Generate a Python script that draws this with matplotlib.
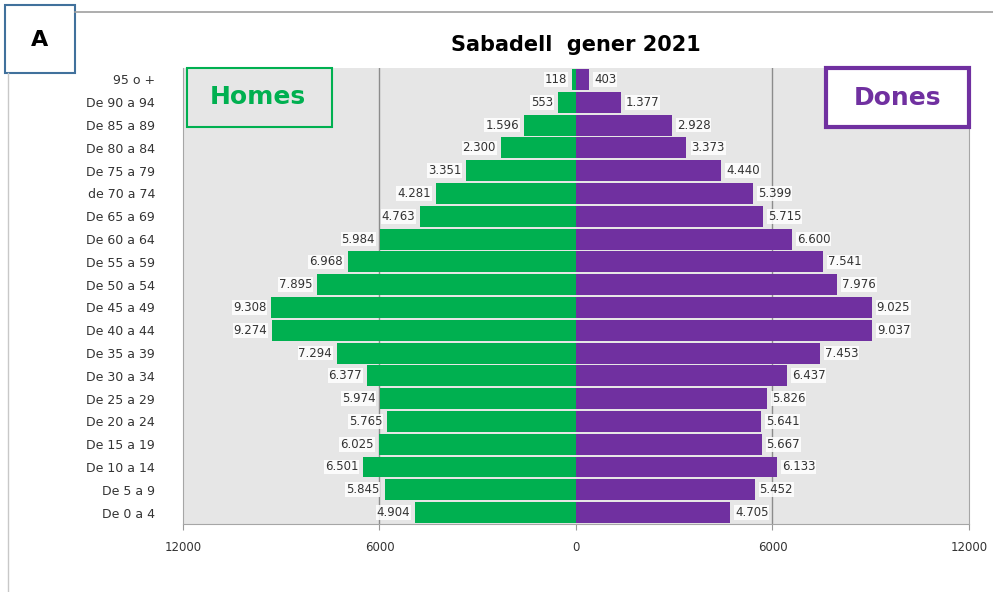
import matplotlib.pyplot as plt
from matplotlib.patches import Rectangle
from matplotlib.lines import Line2D

# Age groups, top to bottom as in the reference
groups = ["95 o +", "De 90 a 94", "De 85 a 89", "De 80 a 84", "De 75 a 79",
          "de 70 a 74", "De 65 a 69", "De 60 a 64", "De 55 a 59", "De 50 a 54",
          "De 45 a 49", "De 40 a 44", "De 35 a 39", "De 30 a 34", "De 25 a 29",
          "De 20 a 24", "De 15 a 19", "De 10 a 14", "De 5 a 9", "De 0 a 4"]
homes = [118, 553, 1596, 2300, 3351, 4281, 4763, 5984, 6968, 7895,
         9308, 9274, 7294, 6377, 5974, 5765, 6025, 6501, 5845, 4904]
dones = [403, 1377, 2928, 3373, 4440, 5399, 5715, 6600, 7541, 7976,
         9025, 9037, 7453, 6437, 5826, 5641, 5667, 6133, 5452, 4705]
xticks = [-12000, -6000, 0, 6000, 12000]
xticklabels = ["12000", "6000", "0", "6000", "12000"]

green = "#00b050"
purple = "#7030a0"


def fmt(v):
    return f"{v:,}".replace(",", ".")


fig = plt.figure(figsize=(9.93, 5.92), dpi=100)
ax = fig.add_axes([0.1843, 0.1149, 0.7915, 0.7701])

ypos = list(range(len(groups)))[::-1]
ax.barh(ypos, [-h for h in homes], height=0.92, color=green)
ax.barh(ypos, dones, height=0.92, color=purple)

lbl_box = dict(facecolor="white", edgecolor="none", pad=0.6, alpha=0.85)
for y, h, d in zip(ypos, homes, dones):
    ax.text(-h - 150, y, fmt(h), ha="right", va="center", fontsize=8.5,
            color="#333333", bbox=lbl_box)
    ax.text(d + 150, y, fmt(d), ha="left", va="center", fontsize=8.5,
            color="#333333", bbox=lbl_box)

ax.set_xlim(-12000, 12000)
ax.set_ylim(-0.5, len(groups) - 0.5)
ax.set_facecolor("#e6e6e6")
ax.set_xticks(xticks)
ax.set_xticklabels(xticklabels, fontsize=8.5, color="#333333")
ax.set_yticks(ypos)
ax.set_yticklabels(groups, fontsize=9, color="#333333")
ax.tick_params(axis="y", length=0, pad=20)
ax.tick_params(axis="x", length=4, color="#999999", pad=8)
for x in (-6000, 6000):
    ax.axvline(x, color="#8c8c8c", lw=1, zorder=0.5)
ax.set_axisbelow(True)
ax.spines["top"].set_visible(False)
for s in ("left", "right", "bottom"):
    ax.spines[s].set_color("#a6a6a6")

ax.set_title("Sabadell  gener 2021", fontsize=15, fontweight="bold", pad=12)

# Legend-like boxes
fig.add_artist(Rectangle((187 / 993, 1 - 127 / 592), 145 / 993, 59 / 592,
                         transform=fig.transFigure, fill=False,
                         edgecolor=green, lw=1.5))
fig.text(258 / 993, 1 - 97 / 592, "Homes", ha="center", va="center",
         fontsize=18, fontweight="bold", color=green)
fig.add_artist(Rectangle((826 / 993, 1 - 127 / 592), 143 / 993, 59 / 592,
                         transform=fig.transFigure, facecolor="white",
                         edgecolor=purple, lw=3, zorder=3))
fig.text(897 / 993, 1 - 98 / 592, "Dones", ha="center", va="center",
         fontsize=18, fontweight="bold", color=purple, zorder=4)

# Outer frame and panel letter
fig.add_artist(Line2D([75 / 993, 1], [1 - 12 / 592] * 2,
                      transform=fig.transFigure, color="#a0a0a0", lw=1.2))
fig.add_artist(Line2D([8 / 993] * 2, [0, 1 - 73 / 592],
                      transform=fig.transFigure, color="#c8c8c8", lw=1))
fig.add_artist(Rectangle((5 / 993, 1 - 73 / 592), 70 / 993, 68 / 592,
                         transform=fig.transFigure, facecolor="white",
                         edgecolor="#41719c", lw=1.5))
fig.text(40 / 993, 1 - 40 / 592, "A", ha="center", va="center",
         fontsize=16, fontweight="bold")

fig.savefig("out.png", dpi=100)
